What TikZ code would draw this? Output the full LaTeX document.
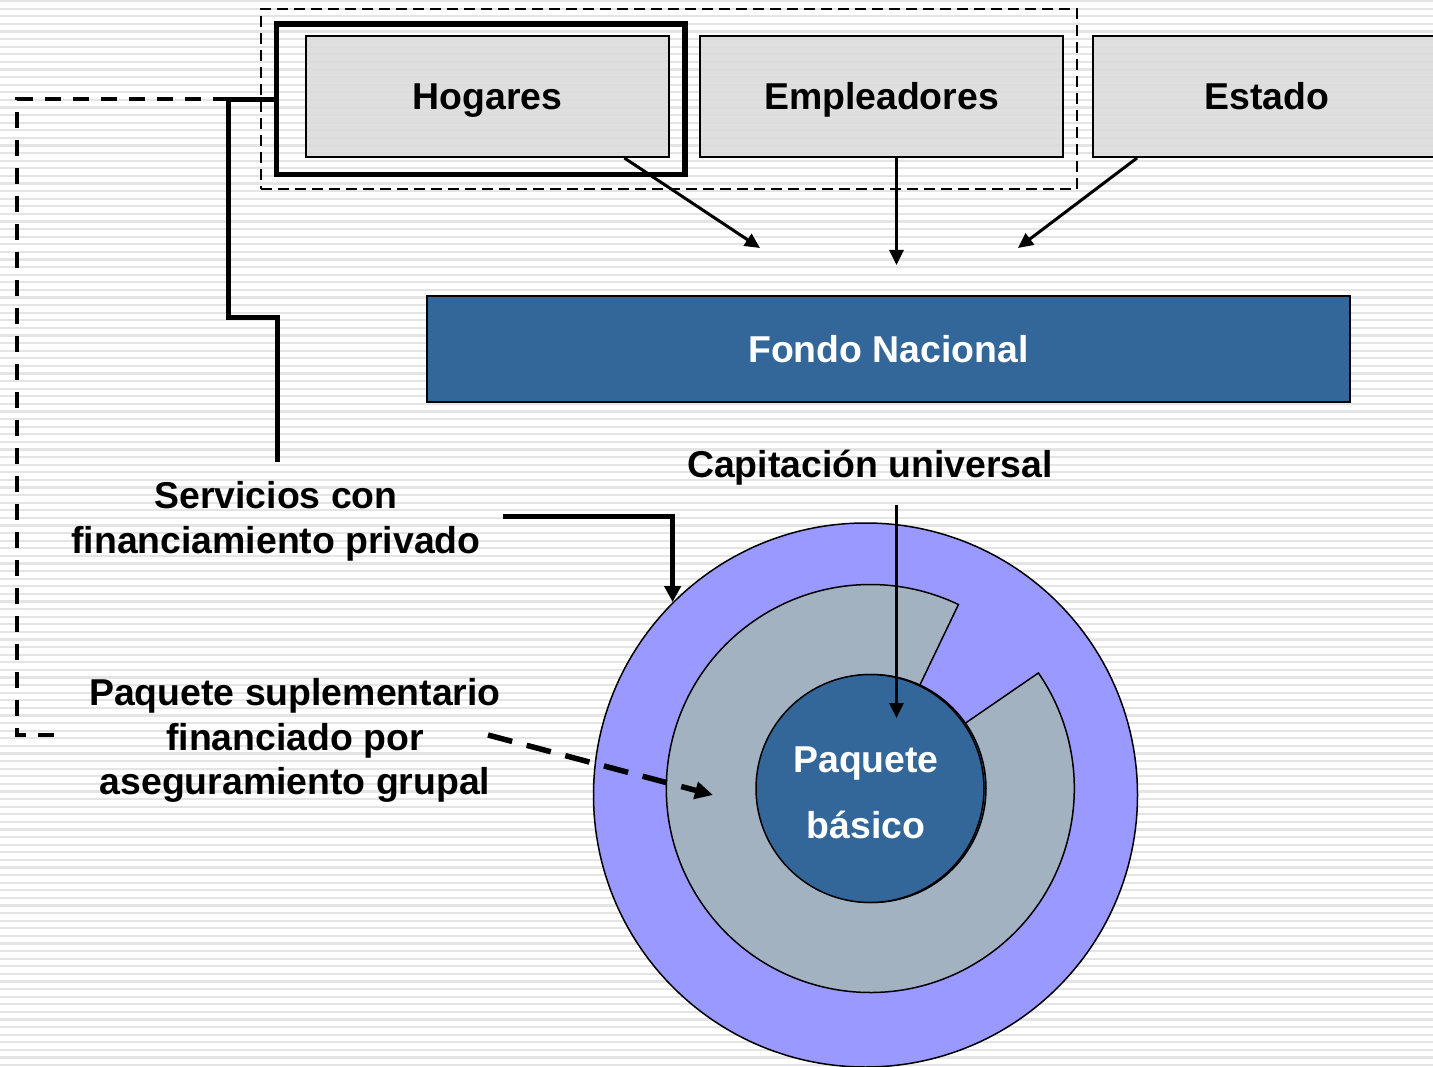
\documentclass[tikz,border=0pt]{standalone}
\usepackage{fontspec}
\setmainfont{Liberation Sans}
\usepackage{tikz}
\usetikzlibrary{arrows.meta, positioning, calc}

\definecolor{azulfondo}{HTML}{336699}
\definecolor{lila}{HTML}{9999FF}
\definecolor{grisanillo}{HTML}{A3B2C1}
\definecolor{griscaja}{HTML}{DCDCDC}
\definecolor{raya}{HTML}{E4E4E4}

\begin{document}
\begin{tikzpicture}[
    x=1pt, y=-1pt,
    every node/.style={font=\fontsize{37.4}{44.5}\selectfont\bfseries, inner sep=0pt},
    % Boxes of the contributors
    aportante/.style={draw, line width=2pt, fill=griscaja, fill opacity=0.9,
                      text opacity=1, minimum width=363pt, minimum height=121pt,
                      text height=33pt, text depth=6pt},
    % Standard arrow
    flecha/.style={-{Triangle[length=15pt, width=14pt]}, line width=3pt},
    % Thick connectors
    gruesa/.style={line width=5pt},
    etiqueta/.style={align=center}
]

\useasboundingbox (0,0) rectangle (1433,1067);

% === BACKGROUND STRIPES ===
\fill[white] (0,0) rectangle (1433,1067);
\foreach \y in {0,7.6,...,1067}
    \fill[raya] (0,\y) rectangle (1433,\y+2.2);

% === TOP ROW: CONTRIBUTORS ===

% Dashed group around the private contributors
\node[draw, dash pattern=on 11pt off 6pt, line width=1.8pt,
      minimum width=816pt, minimum height=180pt] (grupo) at (669,99) {};

% Thick frame round Hogares
\node[draw, line width=5.5pt, minimum width=408.5pt, minimum height=150.5pt]
    (marco) at (480.75,99.25) {};

\node[aportante] (hogares) at (487.5,96.5) {Hogares};
\node[aportante] (empleadores) at (881.5,96.5) {Empleadores};
\node[aportante, minimum width=348pt] (estado) at (1267,96.5) {Estado};

% === FONDO NACIONAL ===
\node[draw, line width=2.5pt, fill=azulfondo, text=white,
      minimum width=923pt, minimum height=106pt] (fondo) at (888.5,349) {Fondo Nacional};

% Arrow ends above the fund
\coordinate (llegadaH) at (760,248);
\coordinate (llegadaE) at (896.5,265);
\coordinate (llegadaS) at (1018,248);

\draw[flecha] ($(hogares.south west)!0.875!(hogares.south east)$) -- (llegadaH);
\draw[flecha] ([xshift=15pt]empleadores.south) -- (llegadaE);
\draw[flecha] ([xshift=45pt]estado.south west) -- (llegadaS);

% === CIRCLES ===
\node[circle, draw, line width=1.5pt, fill=lila, minimum size=544pt] (externo) at (865.5,795) {};

% Grey ring with a cut wedge
\filldraw[fill=grisanillo, line width=1.5pt]
    (870.3,788.5) -- ++(-34.5:204) arc[start angle=-34.5, end angle=295.6, radius=204] -- cycle;

\node[circle, draw, line width=1.5pt, fill=azulfondo, minimum size=228pt] (nucleo2) at (872,788.5) {};
\node[circle, draw, line width=1.5pt, fill=azulfondo, minimum size=228pt] (nucleo) at (870,788.5) {};
\node[etiqueta, text=white, font=\fontsize{37.4}{66}\selectfont\bfseries]
    (paquete) at ([shift={(-4,4)}]nucleo.center) {Paquete\\básico};

% === LABELS ===
\node[etiqueta] (capitacion) at (870,468) {Capitación universal};
\node[etiqueta] (servicios) at (276,521.5) {Servicios con\\financiamiento privado};
\node[etiqueta] (suplementario) at (295,740.5) {Paquete suplementario\\financiado por\\aseguramiento grupal};

% === CONNECTORS ===

% Capitación -> Paquete básico
\coordinate (inicioC) at (896.5,505);
\coordinate (finC) at (896.5,718);
\draw[flecha] (inicioC) -- (finC);

% Hogares -> Servicios (solid)
\coordinate (codo) at (228.5,99.25);
\coordinate (finS) at (277,462);
\draw[gruesa] (marco.west) -- (codo) -- (228.5,318) -| (finS);

% Hogares -> Paquete suplementario (dashed)
\coordinate (finP) at (64,735);
\draw[line width=3.5pt, dash pattern=on 16pt off 12pt] (codo) -| (17,735) -- (finP);

% Servicios -> outer ring
\coordinate (salidaS) at (503,516);
\draw[gruesa, -{Triangle[length=16pt, width=16pt]}] (salidaS) -| (externo.north west);

% Paquete suplementario -> grey ring
\coordinate (salidaP) at (488,735);
\coordinate (llegadaP) at (713,795);
\draw[line width=5.5pt, dash pattern=on 25pt off 15pt, -{Triangle[length=18pt, width=17pt]}]
    (salidaP) -- (llegadaP);

\end{tikzpicture}
\end{document}
